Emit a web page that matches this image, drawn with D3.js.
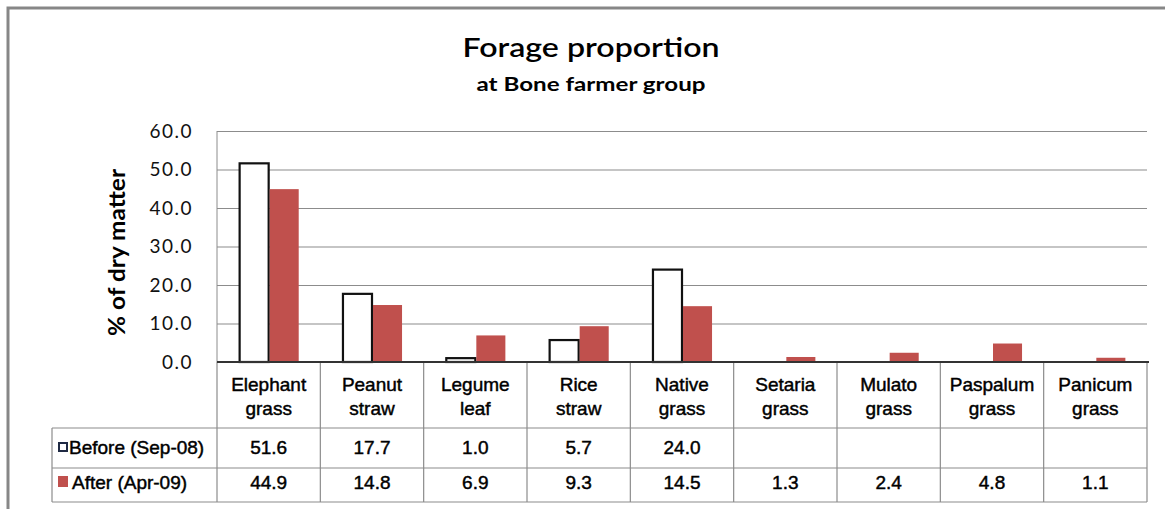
<!DOCTYPE html>
<html>
<head>
<meta charset="utf-8">
<script src="https://cdn.jsdelivr.net/npm/d3@7"></script>
<style>
  body { margin: 0; background: #fff; }
  svg { display: block; }
</style>
</head>
<body>
<svg id="chart"></svg>
<script>
const width = 1165;
const height = 509;

// data
const categories = ["Elephant grass", "Peanut straw", "Legume leaf", "Rice straw", "Native grass",
  "Setaria grass", "Mulato grass", "Paspalum grass", "Panicum grass"];
const seriesNames = ["Before (Sep-08)", "After (Apr-09)"];
const beforeValues = [51.6, 17.7, 1.0, 5.7, 24.0, null, null, null, null];
const afterValues = [44.9, 14.8, 6.9, 9.3, 14.5, 1.3, 2.4, 4.8, 1.1];
const yTicks = [0, 10, 20, 30, 40, 50, 60];

const red = "#c0504d";
const grid = "#8c8c8c";

const plot = { left: 217, right: 1147, top: 131, bottom: 362 };
const table = { legendLeft: 52, headBottom: 428, rowMid: 468, bottom: 502 };

const svg = d3.select("#chart")
  .attr("width", width)
  .attr("height", height)
  .attr("viewBox", [0, 0, width, height]);

// outer frame (only top and left edges show in the picture)
svg.append("path")
  .attr("d", `M8,${height} V8 H${width}`)
  .attr("fill", "none")
  .attr("stroke", "#878787")
  .attr("stroke-width", 3);

// titles
svg.append("text")
  .attr("x", 591).attr("y", 57)
  .attr("text-anchor", "middle")
  .attr("font-family", "Lato, sans-serif")
  .attr("font-size", 26)
  .attr("font-weight", 600)
  .attr("textLength", 257)
  .attr("lengthAdjust", "spacingAndGlyphs")
  .text("Forage proportion");

svg.append("text")
  .attr("x", 591).attr("y", 91)
  .attr("text-anchor", "middle")
  .attr("font-family", "Lato, sans-serif")
  .attr("font-size", 18)
  .attr("font-weight", 700)
  .attr("textLength", 229)
  .attr("lengthAdjust", "spacingAndGlyphs")
  .text("at Bone farmer group");

const x = d3.scaleBand()
  .domain(categories)
  .range([plot.left, plot.right]);

const xSub = d3.scaleBand()
  .domain(seriesNames)
  .range([0, x.bandwidth()])
  .paddingOuter(0.72);

const y = d3.scaleLinear()
  .domain([0, 60])
  .range([plot.bottom, plot.top]);

// gridlines + tick labels
const yAxis = svg.append("g")
  .attr("transform", `translate(${plot.left},0)`)
  .call(d3.axisLeft(y)
    .tickValues(yTicks)
    .tickFormat(d3.format(".1f"))
    .tickSizeInner(-(plot.right - plot.left))
    .tickSizeOuter(0)
    .tickPadding(24));
yAxis.select(".domain").remove();
yAxis.selectAll(".tick line").attr("stroke", grid).attr("stroke-width", 1.2);
yAxis.selectAll(".tick text")
  .attr("font-family", "Lato, sans-serif")
  .attr("font-size", 19)
  .attr("letter-spacing", 1.5)
  .attr("fill", "#111");

svg.append("line")
  .attr("x1", plot.left).attr("x2", plot.left)
  .attr("y1", plot.top).attr("y2", plot.bottom)
  .attr("stroke", grid);

// axis title
svg.append("text")
  .attr("transform", `translate(125,${(plot.top + plot.bottom) / 2 + 6}) rotate(-90)`)
  .attr("text-anchor", "middle")
  .attr("font-family", "Lato, sans-serif")
  .attr("font-size", 22)
  .attr("font-weight", 700)
  .attr("textLength", 167)
  .attr("lengthAdjust", "spacingAndGlyphs")
  .text("% of dry matter");

// bars
const groups = svg.append("g")
  .selectAll("g")
  .data(categories)
  .join("g")
    .attr("transform", d => `translate(${x(d)},0)`);

groups.filter((d, i) => beforeValues[i] != null)
  .append("rect")
    .attr("x", d => xSub(seriesNames[0]) + 1)
    .attr("width", xSub.bandwidth() - 1)
    .attr("y", d => y(beforeValues[categories.indexOf(d)]))
    .attr("height", d => y(0) - y(beforeValues[categories.indexOf(d)]))
    .attr("fill", "#fff")
    .attr("stroke", "#111")
    .attr("stroke-width", 2.2);

groups.append("rect")
    .attr("x", d => xSub(seriesNames[1]) + 1)
    .attr("width", xSub.bandwidth() - 1)
    .attr("y", d => y(afterValues[categories.indexOf(d)]))
    .attr("height", d => y(0) - y(afterValues[categories.indexOf(d)]))
    .attr("fill", red);

// data table
const tbl = svg.append("g").attr("stroke", grid).attr("stroke-width", 1.2);
[table.headBottom, table.rowMid, table.bottom].forEach(yy => {
  tbl.append("line")
    .attr("x1", table.legendLeft).attr("x2", plot.right)
    .attr("y1", yy).attr("y2", yy);
});
tbl.append("line")
  .attr("x1", table.legendLeft).attr("x2", table.legendLeft)
  .attr("y1", table.headBottom).attr("y2", table.bottom);
tbl.selectAll("line.col")
  .data(categories.map(d => x(d)).concat([plot.right]))
  .join("line")
    .attr("class", "col")
    .attr("x1", d => d).attr("x2", d => d)
    .attr("y1", plot.bottom).attr("y2", table.bottom);

// baseline
svg.append("line")
  .attr("x1", plot.left).attr("x2", plot.right + 2)
  .attr("y1", plot.bottom).attr("y2", plot.bottom)
  .attr("stroke", "#333")
  .attr("stroke-width", 2.2);

const cellFont = "'Liberation Sans', Arial, sans-serif";

// table text is drawn a little heavy in the picture
function cellText(g) {
  g.attr("font-family", cellFont)
    .attr("font-size", 19)
    .attr("fill", "#000")
    .attr("stroke", "#000")
    .attr("stroke-width", 0.45);
}

// category labels
const headers = svg.append("g")
  .call(cellText)
  .attr("text-anchor", "middle")
  .selectAll("text")
  .data(categories)
  .join("text")
    .attr("x", d => x(d) + x.bandwidth() / 2)
    .attr("y", 391);
headers.selectAll("tspan")
  .data(d => d.split(" "))
  .join("tspan")
    .attr("x", function() { return d3.select(this.parentNode).attr("x"); })
    .attr("dy", (d, i) => i ? 24 : 0)
    .text(d => d);

// value rows
const rowY = [454, 489];
[beforeValues, afterValues].forEach((vals, r) => {
  svg.append("g")
    .call(cellText)
    .attr("text-anchor", "middle")
    .selectAll("text")
    .data(categories.filter((d, i) => vals[i] != null))
    .join("text")
      .attr("x", d => x(d) + x.bandwidth() / 2)
      .attr("y", rowY[r])
      .text(d => d3.format(".1f")(vals[categories.indexOf(d)]));
});

// legend keys in the table
const legend = svg.append("g").call(cellText);
legend.append("rect")
  .attr("x", 59).attr("y", rowY[0] - 11).attr("width", 8).attr("height", 8)
  .attr("fill", "#fff").attr("stroke", "#1f2a44").attr("stroke-width", 2);
legend.append("rect")
  .attr("x", 58).attr("y", rowY[1] - 13).attr("width", 10).attr("height", 11)
  .attr("fill", red).attr("stroke", "none");
legend.selectAll("text")
  .data(seriesNames)
  .join("text")
    .attr("x", (d, i) => i ? 72 : 69)
    .attr("y", (d, i) => rowY[i])
    .text(d => d);
</script>
</body>
</html>
